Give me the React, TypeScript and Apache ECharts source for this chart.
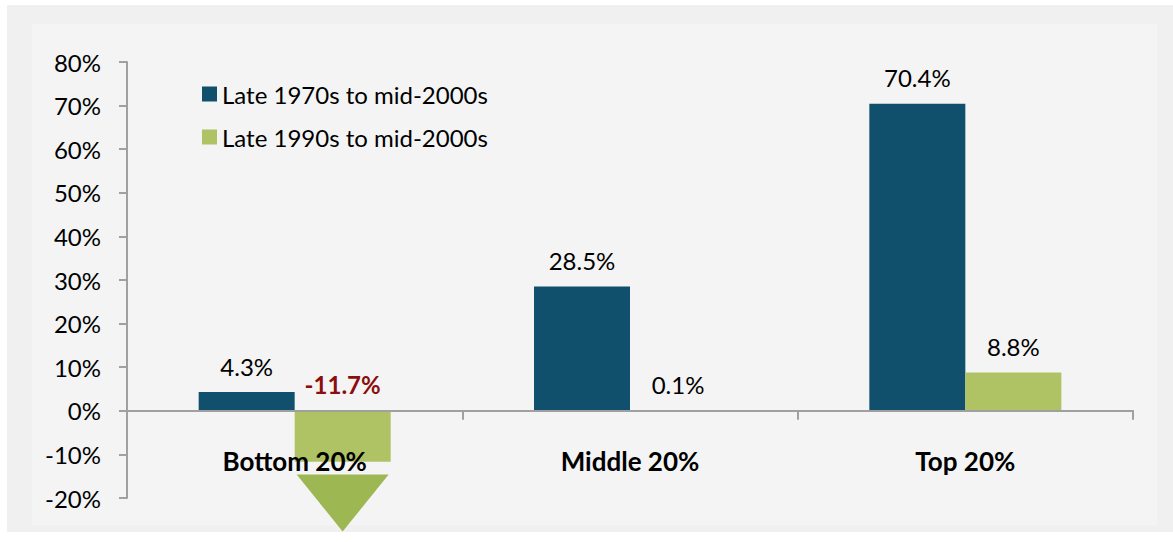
import React, { useEffect, useRef } from "react";
import * as echarts from "echarts";

const categories = ["Bottom 20%", "Middle 20%", "Top 20%"];
const seriesNames = ["Late 1970s to mid-2000s", "Late 1990s to mid-2000s"];
const late1970s = [4.3, 28.5, 70.4];
const late1990s = [-11.7, 0.1, 8.8];
const yMin = -20;
const yMax = 80;
const yInterval = 10;

const FONT = "Lato";

export default function App() {
  const ref = useRef<HTMLDivElement>(null);
  useEffect(() => {
    if (!ref.current) return;
    const chart = echarts.init(ref.current, undefined, { renderer: "svg" });
    const labelBase = {
      show: true,
      position: "top",
      distance: 14,
      fontFamily: FONT,
      fontSize: 24,
      color: "#000",
      formatter: (p: any) => p.value.toFixed(1) + "%",
    };
    chart.setOption({
      animation: false,
      backgroundColor: "#ffffff",
      graphic: [
        { type: "rect", shape: { x: 7, y: 5, width: 1166, height: 527 }, style: { fill: "#f0f0f0" }, z: -10, silent: true },
        { type: "rect", shape: { x: 32, y: 24, width: 1125, height: 501 }, style: { fill: "#f4f4f4" }, z: -9, silent: true },
      ],
      grid: { left: 127, right: 40, top: 62, bottom: 44, containLabel: false, outerBoundsMode: "none" },
      legend: {
        orient: "vertical",
        left: 202,
        top: 82,
        padding: 0,
        itemWidth: 15,
        itemHeight: 15,
        itemGap: 19,
        icon: "rect",
        data: seriesNames,
        textStyle: { fontFamily: FONT, fontSize: 24, color: "#000" },
      },
      xAxis: {
        type: "category",
        data: categories,
        z: 3,
        axisLine: { onZero: true, lineStyle: { color: "#a0a0a0", width: 2 } },
        axisTick: { show: true, length: 9, lineStyle: { color: "#a0a0a0", width: 2 } },
        axisLabel: { margin: -50, fontFamily: FONT, fontSize: 26, fontWeight: "bold", color: "#000" },
      },
      yAxis: {
        type: "value",
        min: yMin,
        max: yMax,
        interval: yInterval,
        splitLine: { show: false },
        axisLine: { show: true, lineStyle: { color: "#a0a0a0", width: 2 } },
        axisTick: { show: true, length: 8, lineStyle: { color: "#a0a0a0", width: 2 } },
        axisLabel: { margin: 26, fontFamily: FONT, fontSize: 24, color: "#000", formatter: (v: number) => v + "%" },
      },
      series: [
        {
          name: seriesNames[0],
          type: "bar",
          data: late1970s,
          barWidth: 96,
          barGap: "0%",
          itemStyle: { color: "#10506c" },
          label: labelBase,
        },
        {
          name: seriesNames[1],
          type: "bar",
          data: late1990s.map((v) =>
            v < 0
              ? { value: v, label: { fontWeight: "bold", color: "#8b0e0e" } }
              : v
          ),
          barWidth: 96,
          barGap: "0%",
          itemStyle: { color: "#afc264" },
          label: labelBase,
          markPoint: {
            silent: true,
            symbol: "triangle",
            symbolRotate: 180,
            symbolSize: [92, 57],
            symbolOffset: [0, 5],
            itemStyle: { color: "#9db752" },
            label: { show: false },
            data: [{ coord: [0, yMin] }],
          },
        },
      ],
    });
    return () => chart.dispose();
  }, []);
  return <div ref={ref} style={{ width: 1173, height: 542, position: "absolute", left: 0, top: 0 }} />;
}
